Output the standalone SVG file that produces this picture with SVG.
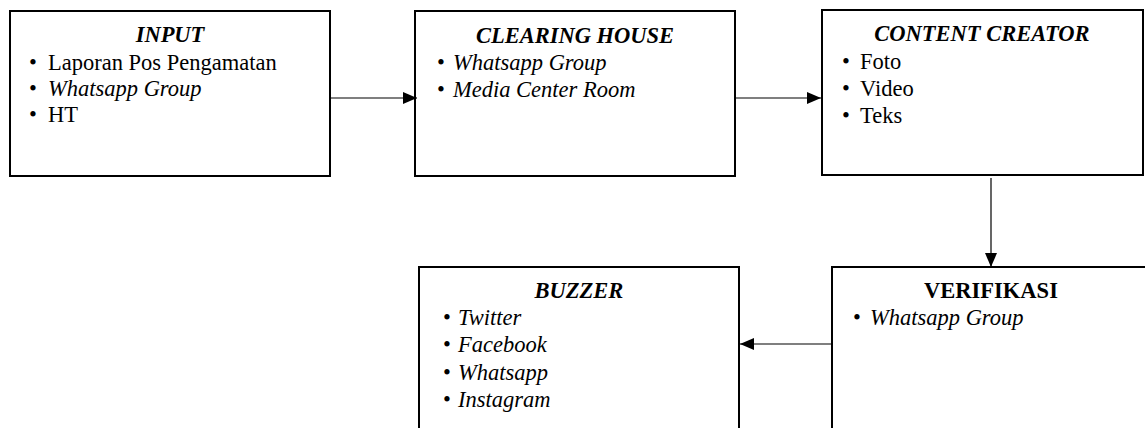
<svg xmlns="http://www.w3.org/2000/svg" width="1145" height="428" viewBox="0 0 1145 428">
<style>
.box{fill:#fff;stroke:#000;stroke-width:2}
text{font-family:"Liberation Serif","Times New Roman",serif;font-size:22.5px;fill:#000}
.t{font-weight:bold;font-style:italic;text-anchor:middle}
.tb{font-weight:bold;text-anchor:middle}
.i{font-style:italic}
.c{stroke:#000;stroke-width:1.2;fill:none}
</style>
<defs>
<marker id="ah" viewBox="0 0 14 12" refX="14" refY="6" markerWidth="14" markerHeight="12" markerUnits="userSpaceOnUse" orient="auto">
<path d="M0,0 L14,6 L0,12 Z" fill="#000"/>
</marker>
</defs>
<g id="input">
<rect class="box" x="10" y="11" width="320" height="165"/>
<text class="t" x="170" y="42">INPUT</text>
<text x="29" y="70">•</text><text x="48" y="70">Laporan Pos Pengamatan</text>
<text x="29" y="96">•</text><text x="48" y="96" class="i">Whatsapp Group</text>
<text x="29" y="122">•</text><text x="48" y="122">HT</text>
</g>
<g id="clearing">
<rect class="box" x="415" y="11" width="320" height="165"/>
<text class="t" x="575" y="43">CLEARING HOUSE</text>
<text x="437" y="70">•</text><text x="453" y="70" class="i">Whatsapp Group</text>
<text x="437" y="97">•</text><text x="453" y="97" class="i">Media Center Room</text>
</g>
<g id="content">
<rect class="box" x="822" y="10" width="321" height="165"/>
<text class="t" x="982" y="41">CONTENT CREATOR</text>
<text x="842" y="69">•</text><text x="860" y="69">Foto</text>
<text x="842" y="96">•</text><text x="860" y="96">Video</text>
<text x="842" y="123">•</text><text x="860" y="123">Teks</text>
</g>
<g id="verifikasi">
<rect class="box" x="832" y="267" width="320" height="180"/>
<text class="tb" x="991" y="298">VERIFIKASI</text>
<text x="853" y="325">•</text><text x="870" y="325" class="i">Whatsapp Group</text>
</g>
<g id="buzzer">
<rect class="box" x="419" y="267" width="320" height="180"/>
<text class="t" x="579" y="298">BUZZER</text>
<text x="443" y="325">•</text><text x="458" y="325" class="i">Twitter</text>
<text x="443" y="352">•</text><text x="458" y="352" class="i">Facebook</text>
<text x="443" y="380">•</text><text x="458" y="380" class="i">Whatsapp</text>
<text x="443" y="407">•</text><text x="458" y="407" class="i">Instagram</text>
</g>
<g id="connectors">
<line class="c" x1="331" y1="98" x2="417" y2="98" marker-end="url(#ah)"/>
<line class="c" x1="736" y1="98" x2="821" y2="98" marker-end="url(#ah)"/>
<line class="c" x1="991" y1="178" x2="991" y2="267" marker-end="url(#ah)"/>
<line class="c" x1="831" y1="344" x2="740" y2="344" marker-end="url(#ah)"/>
</g>
</svg>
